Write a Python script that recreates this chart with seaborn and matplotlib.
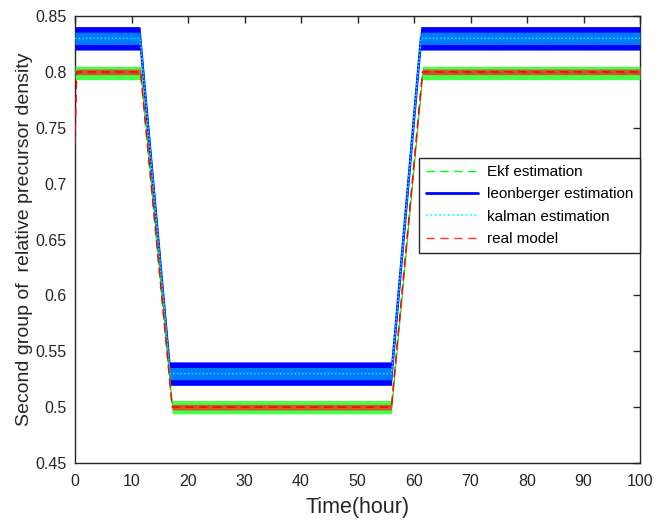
import matplotlib
matplotlib.use("Agg")
import matplotlib.pyplot as plt
import seaborn as sns
import numpy as np
import pandas as pd
from matplotlib.lines import Line2D

# ---- data ----
# real model trajectory (breakpoints)
t_real = [0, 0.3, 11.6, 17.2, 56.0, 61.5, 100]
y_real = [0.735, 0.8, 0.8, 0.5, 0.5, 0.8, 0.8]
# EKF estimate trajectory (breakpoints)
t_ekf = [0, 0.3, 11.6, 17.2, 56.0, 61.5, 100]
y_ekf = [0.80, 0.799, 0.799, 0.500, 0.500, 0.799, 0.799]
# Luenberger and Kalman estimates (breakpoints)
t_obs = [0, 11.5, 16.8, 56.0, 61.2, 100]
y_leon = [0.83, 0.83, 0.53, 0.53, 0.83, 0.83]
y_kal = [0.83, 0.83, 0.53, 0.53, 0.83, 0.83]
# visible noise half-widths of each estimate (envelope)
hw_leon = [0.0105, 0.0105, 0.0105, 0.0105, 0.0105, 0.0105]
hw_kal = [0.0055, 0.0055, 0.0055, 0.0055, 0.0055, 0.0055]
hw_ekf = [0.006, 0.006, 0.006, 0.006, 0.006, 0.006, 0.006]
hw_real = [0.0025, 0.0025, 0.0025, 0.0025, 0.0025, 0.0025, 0.0025]

x_ticks = [0, 10, 20, 30, 40, 50, 60, 70, 80, 90, 100]
y_ticks = [0.45, 0.5, 0.55, 0.6, 0.65, 0.7, 0.75, 0.8, 0.85]
y_tick_labels = ["0.45", "0.5", "0.55", "0.6", "0.65", "0.7", "0.75", "0.8", "0.85"]

sns.set_style("white")
plt.rcParams["font.family"] = ["Liberation Sans", "DejaVu Sans"]

W, H = 659, 521
fig = plt.figure(figsize=(W / 100, H / 100), dpi=100)
ax = fig.add_axes([75 / W, 1 - 463 / H, 565 / W, 447 / H])

def band(t, y, hw, color, alpha, z):
    y = np.asarray(y); hw = np.asarray(hw)
    ax.fill_between(t, y - hw, y + hw, color=color, alpha=alpha, lw=0, zorder=z)

# leonberger (blue) noisy band + line
band(t_obs, y_leon, hw_leon, "#0000ff", 1.0, 2)
sns.lineplot(x=t_obs, y=y_leon, color="#0000ff", lw=1.5, ax=ax, zorder=3)
# kalman (cyan dotted) band
band(t_obs, y_kal, hw_kal, "#00e0ff", 0.55, 4)
sns.lineplot(x=t_obs, y=y_kal, color="#00ffff", lw=1.0, linestyle=":", ax=ax, zorder=5)
# ekf (green dashed)
band(t_ekf, y_ekf, hw_ekf, "#33ff33", 0.9, 6)
sns.lineplot(x=t_ekf, y=y_ekf, color="#00dd00", lw=1.0, linestyle=(0, (6, 4)), ax=ax, zorder=7)
# real model (red dashed)
band(t_real, y_real, hw_real, "#ff2020", 0.75, 8)
sns.lineplot(x=t_real, y=y_real, color="#ff0000", lw=1.0, linestyle=(0, (6, 4)), ax=ax, zorder=9)

ax.set_xlim(0, 100)
ax.set_ylim(0.45, 0.85)
ax.set_xticks(x_ticks)
ax.set_xticklabels([str(v) for v in x_ticks])
ax.set_yticks(y_ticks)
ax.set_yticklabels(y_tick_labels)
ax.tick_params(direction="in", length=5, width=1, colors="#262626",
               labelsize=11.5, top=True, right=True)
ax.tick_params(axis="x", pad=8)
ax.tick_params(axis="y", pad=6)
for s in ax.spines.values():
    s.set_color("#262626")
    s.set_linewidth(1.0)
ax.set_xlabel("Time(hour)", fontsize=15.5, color="#262626", labelpad=6)
ax.set_ylabel("Second group of  relative precursor density", fontsize=14,
              color="#262626", labelpad=2)

handles = [
    Line2D([], [], color="#00ff00", lw=1.0, linestyle=(0, (6, 4))),
    Line2D([], [], color="#0000ff", lw=2.0),
    Line2D([], [], color="#00ffff", lw=1.2, linestyle=":"),
    Line2D([], [], color="#ff3333", lw=1.0, linestyle=(0, (6, 4))),
]
labels = ["Ekf estimation", "leonberger estimation", "kalman estimation", "real model"]
leg = ax.legend(handles, labels, loc="upper left",
                bbox_to_anchor=(419 / W, 1 - 158 / H), bbox_transform=fig.transFigure,
                fontsize=11, frameon=True, fancybox=False, framealpha=1,
                edgecolor="#262626", handlelength=3.4, handletextpad=0.6,
                labelspacing=0.55, borderpad=0.45, borderaxespad=0)
leg.get_frame().set_linewidth(1.0)
for txt in leg.get_texts():
    txt.set_color("#000000")

fig.savefig("out.png", dpi=100)
